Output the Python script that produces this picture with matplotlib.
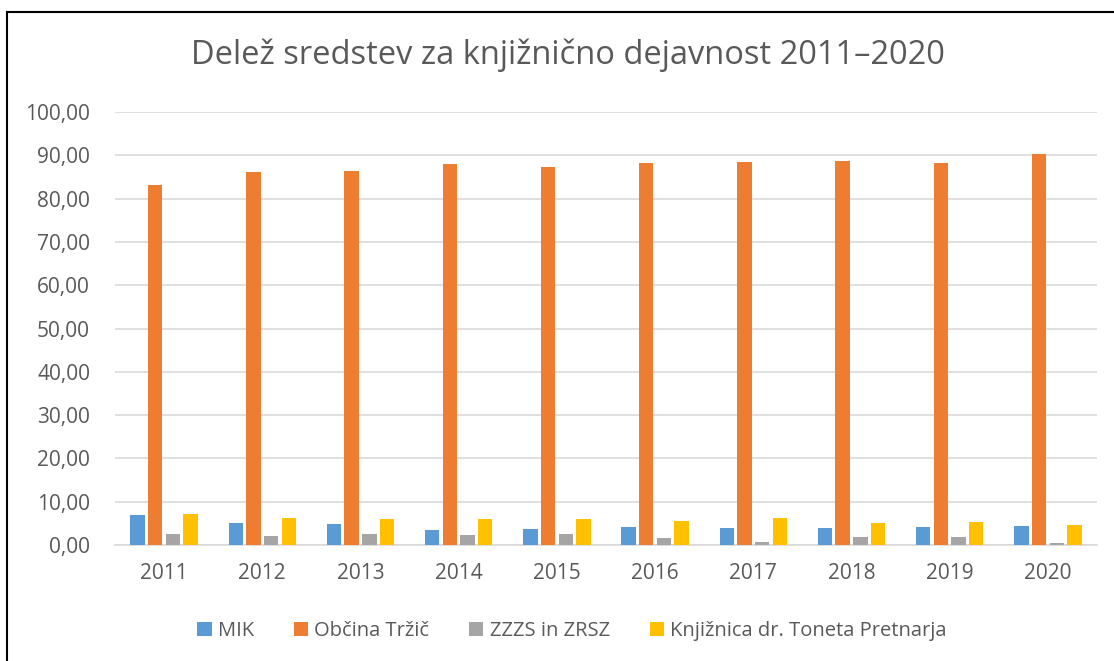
import matplotlib
matplotlib.use("Agg")
import matplotlib.pyplot as plt
import numpy as np
from matplotlib.patches import Rectangle

years = ["2011", "2012", "2013", "2014", "2015", "2016", "2017", "2018", "2019", "2020"]
mik = [6.9, 5.1, 4.9, 3.5, 3.8, 4.2, 4.0, 3.9, 4.2, 4.4]
obcina = [83.1, 86.2, 86.3, 87.9, 87.3, 88.2, 88.5, 88.7, 88.2, 90.3]
zzzs = [2.5, 2.1, 2.5, 2.4, 2.5, 1.6, 0.7, 1.9, 1.9, 0.4]
knjiznica = [7.2, 6.2, 5.9, 5.9, 5.9, 5.5, 6.2, 5.1, 5.3, 4.7]
series_names = ["MIK", "Občina Tržič", "ZZZS in ZRSZ", "Knjižnica dr. Toneta Pretnarja"]
colors = ["#5B9BD5", "#ED7D31", "#A5A5A5", "#FFC000"]
title = "Delež sredstev za knjižnično dejavnost 2011–2020"

W, H = 1114, 661
fig = plt.figure(figsize=(W / 100, H / 100), dpi=100)
plt.rcParams['font.family'] = ['Open Sans', 'DejaVu Sans']

ax = fig.add_axes([115 / W, 1 - 545 / H, (1097 - 115) / W, (545 - 112) / H])
x = np.arange(len(years))
step = 0.18
width = 0.146
data = [mik, obcina, zzzs, knjiznica]
handles = []
for i, (vals, c, name) in enumerate(zip(data, colors, series_names)):
    b = ax.bar(x + (i - 1.5) * step, vals, width, color=c, label=name, zorder=3,
               linewidth=0)
    handles.append(b)

ax.set_ylim(0, 100)
ax.set_xlim(-0.5, len(years) - 0.5)
ax.set_yticks(np.arange(0, 101, 10))
ax.set_yticklabels([f"{v:.2f}".replace('.', ',') for v in np.arange(0, 101, 10)])
ax.set_xticks(x)
ax.set_xticklabels(years)
ax.yaxis.grid(True, color="#D9D9D9", linewidth=1.2, zorder=0)
for s in ['top', 'right', 'left']:
    ax.spines[s].set_visible(False)
ax.spines['bottom'].set_color("#D9D9D9")
ax.spines['bottom'].set_linewidth(1.2)
ax.tick_params(axis='both', length=0, labelsize=15, labelcolor="#595959")
ax.tick_params(axis='y', pad=18)
ax.tick_params(axis='x', pad=13)

fig.text(568 / W, 1 - 55 / H, title, ha='center', va='center', fontsize=23.5,
         color="#595959", family=['Liberation Sans Narrow', 'Open Sans', 'DejaVu Sans'])

fig.legend(handles=handles, labels=series_names, loc='center', bbox_to_anchor=(572 / W, 1 - 631 / H),
           ncol=4, frameon=False, fontsize=14.5, labelcolor="#595959", handlelength=0.7,
           handleheight=0.7, handletextpad=0.3, columnspacing=2.0)

fig.patches.append(Rectangle((7 / W, -0.1), 1.2, 1 - 12 / H + 0.1, transform=fig.transFigure,
                             fill=False, edgecolor='black', linewidth=1.5))

fig.savefig("out.png", dpi=100)
